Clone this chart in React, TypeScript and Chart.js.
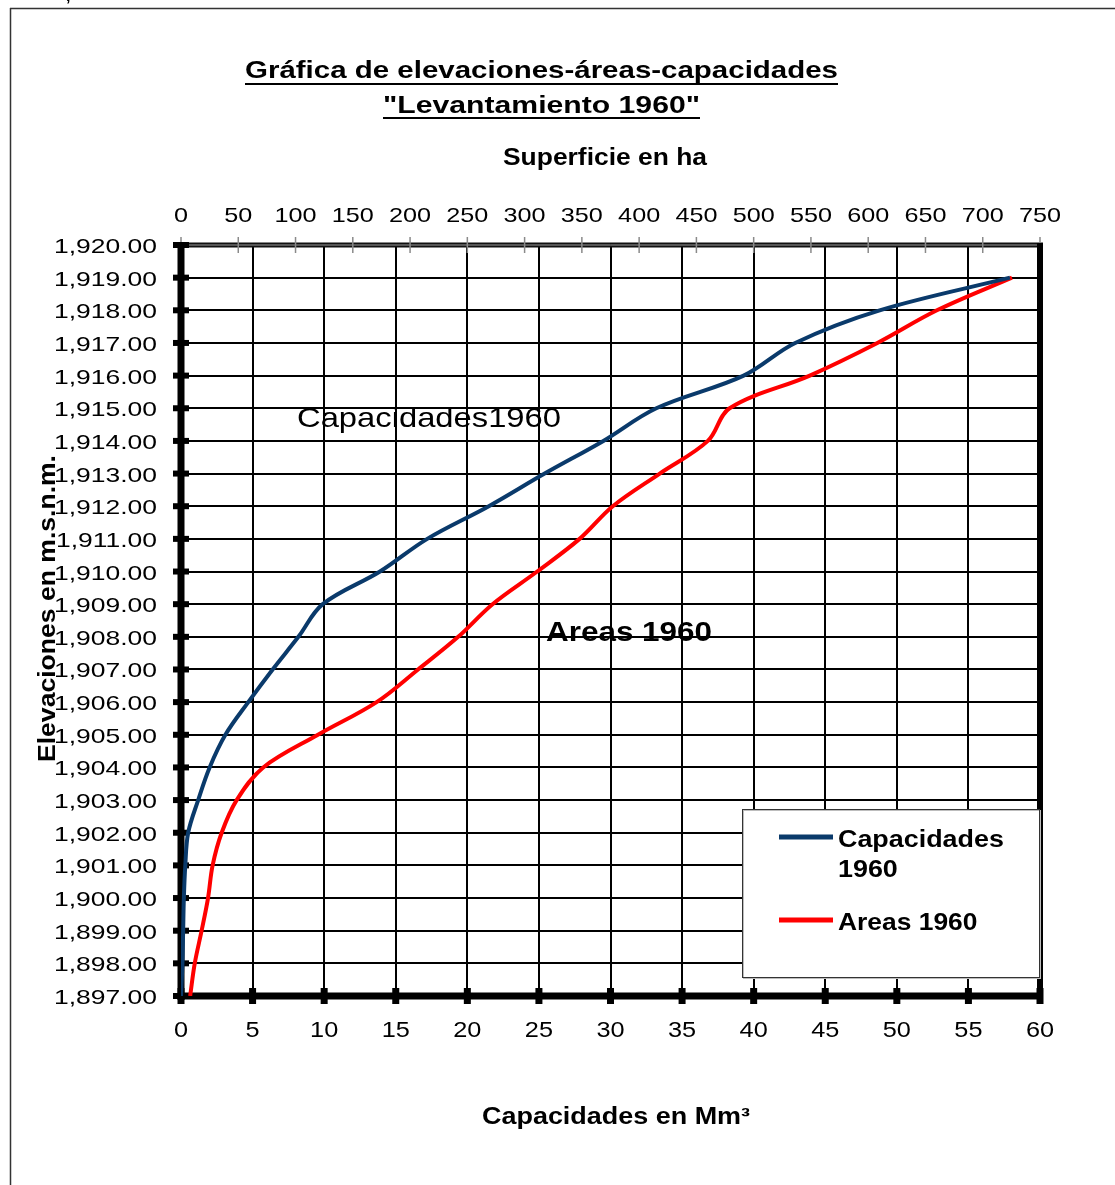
import React, { useEffect, useRef } from "react";
import { Chart, registerables } from "chart.js";

Chart.register(...registerables);

// ---- data ----
const elevaciones = [
  1897, 1898, 1899, 1900, 1901, 1902, 1903, 1904, 1905, 1906, 1907, 1908,
  1909, 1910, 1911, 1912, 1913, 1914, 1915, 1916, 1917, 1918, 1919,
];
// Capacidades en Mm³ (bottom axis)
const capacidades = [
  0, 0.1, 0.15, 0.2, 0.3, 0.5, 1.2, 2.0, 3.1, 4.7, 6.4, 8.2, 9.9, 13.9, 17.2,
  21.5, 25.4, 29.5, 33.2, 39.3, 42.9, 48.8, 57.9,
];
// Superficie en ha (top axis)
const areas = [
  8, 12, 18, 23.6, 27.6, 35.5, 48.6, 71.8, 119.6, 170.8, 207, 242, 272, 311,
  348, 377, 418, 460, 479, 549, 608, 660, 725.5,
];

const tituloLineas = ["Gráfica de elevaciones-áreas-capacidades", '"Levantamiento 1960"'];
const tituloSuperior = "Superficie en ha";
const tituloInferior = "Capacidades en Mm³";
const tituloY = "Elevaciones en m.s.n.m.";
const serieCapacidades = "Capacidades 1960";
const serieAreas = "Areas 1960";
const etiquetaCap = "Capacidades1960";
const etiquetaAreas = "Areas 1960";

const capRange = { min: 0, max: 60, step: 5 };
const areaRange = { min: 0, max: 750, step: 50 };
const elevRange = { min: 1897, max: 1920, step: 1 };

const FONT = "'Liberation Sans', Arial, sans-serif";
const BLUE = "#0a3a6b";
const RED = "#ff0000";

function drawStretched(
  ctx: CanvasRenderingContext2D,
  text: string,
  x: number,
  y: number,
  font: string,
  scaleX: number,
  align: "left" | "center" | "right"
) {
  ctx.save();
  ctx.font = font;
  ctx.textBaseline = "alphabetic";
  ctx.textAlign = "left";
  const w = ctx.measureText(text).width * scaleX;
  const left = align === "center" ? x - w / 2 : align === "right" ? x - w : x;
  ctx.translate(left, y);
  ctx.scale(scaleX, 1);
  ctx.fillStyle = "#000";
  ctx.fillText(text, 0, 0);
  ctx.restore();
  return w;
}

function drawFitted(
  ctx: CanvasRenderingContext2D,
  text: string,
  left: number,
  right: number,
  y: number,
  font: string
) {
  ctx.save();
  ctx.font = font;
  const m = ctx.measureText(text).width;
  ctx.restore();
  drawStretched(ctx, text, left, y, font, (right - left) / m, "left");
}

function line(
  ctx: CanvasRenderingContext2D,
  x1: number,
  y1: number,
  x2: number,
  y2: number,
  color: string,
  width: number
) {
  ctx.save();
  ctx.strokeStyle = color;
  ctx.lineWidth = width;
  ctx.lineCap = "butt";
  ctx.beginPath();
  ctx.moveTo(x1, y1);
  ctx.lineTo(x2, y2);
  ctx.stroke();
  ctx.restore();
}

const decorPlugin = {
  id: "decor",
  beforeDatasetsDraw(chart: any) {
    const ctx: CanvasRenderingContext2D = chart.ctx;
    const { left, right, top, bottom } = chart.chartArea;
    const xs = chart.scales.x;
    const x2s = chart.scales.x2;
    const ys = chart.scales.y;

    // top border (double line look)
    line(ctx, left - 3, top, right + 3, top, "#111", 5);
    line(ctx, left + 3, top, right - 3, top, "#9a9a9a", 1);
    // top axis small gray ticks
    x2s.ticks.forEach((t: any) => {
      const px = x2s.getPixelForValue(t.value);
      line(ctx, px, top - 8, px, top + 8, "#8a8a8a", 1.5);
    });
    // right border
    line(ctx, right, top - 2, right, bottom + 4, "#000", 6);
    // left axis
    line(ctx, left, top - 2, left, bottom + 4, "#000", 7);
    // bottom axis
    line(ctx, left - 3, bottom, right + 3, bottom, "#000", 7);
    // left tick marks
    ys.ticks.forEach((t: any) => {
      const py = ys.getPixelForValue(t.value);
      line(ctx, left - 8, py, left + 8, py, "#000", 6);
    });
    // bottom tick marks
    xs.ticks.forEach((t: any) => {
      const px = xs.getPixelForValue(t.value);
      line(ctx, px, bottom - 8, px, bottom + 8, "#000", 7);
    });
  },
  afterDatasetsDraw(chart: any) {
    const ctx: CanvasRenderingContext2D = chart.ctx;
    const { left, right, top, bottom } = chart.chartArea;
    const xs = chart.scales.x;
    const x2s = chart.scales.x2;
    const ys = chart.scales.y;

    // outer frame
    line(ctx, 10, 8.5, chart.width, 8.5, "#333", 1.5);
    line(ctx, 10.5, 8, 10.5, chart.height, "#333", 1.5);
    drawStretched(ctx, ",", 66, 1, `bold 16px ${FONT}`, 1, "left");

    // title
    drawFitted(ctx, tituloLineas[0], 245, 838, 78, `bold 24px ${FONT}`);
    line(ctx, 245, 84, 838, 84, "#000", 2);
    drawFitted(ctx, tituloLineas[1], 383, 700, 113, `bold 24px ${FONT}`);
    line(ctx, 383, 118, 700, 118, "#000", 2);

    // axis titles
    drawFitted(ctx, tituloSuperior, 503, 707, 165, `bold 23px ${FONT}`);
    drawFitted(ctx, tituloInferior, 482, 750, 1124, `bold 23px ${FONT}`);
    ctx.save();
    ctx.translate(55, 0);
    ctx.rotate(-Math.PI / 2);
    // in rotated frame x = -y
    drawFitted(ctx, tituloY, -762, -455, 0, `bold 23px ${FONT}`);
    ctx.restore();

    // tick labels
    ys.ticks.forEach((t: any) => {
      const py = ys.getPixelForValue(t.value);
      const txt = Number(t.value).toLocaleString("en-US", {
        minimumFractionDigits: 2,
        maximumFractionDigits: 2,
      });
      drawStretched(ctx, txt, left - 24, py + 8, `21px ${FONT}`, 1.26, "right");
    });
    x2s.ticks.forEach((t: any) => {
      const px = x2s.getPixelForValue(t.value);
      drawStretched(ctx, String(t.value), px, top - 23, `21px ${FONT}`, 1.2, "center");
    });
    xs.ticks.forEach((t: any) => {
      const px = xs.getPixelForValue(t.value);
      drawStretched(ctx, String(t.value), px, bottom + 41, `22px ${FONT}`, 1.15, "center");
    });

    // in-plot labels
    drawFitted(ctx, etiquetaCap, 297, 561, 427, `28px ${FONT}`);
    drawFitted(ctx, etiquetaAreas, 546, 712, 641, `bold 27px ${FONT}`);

    // legend
    const lx1 = 742, ly1 = 809, lx2 = 1039, ly2 = 977;
    ctx.save();
    ctx.fillStyle = "#fff";
    ctx.fillRect(lx1, ly1, lx2 - lx1, ly2 - ly1);
    ctx.strokeStyle = "#bdbdbd";
    ctx.lineWidth = 1;
    ctx.strokeRect(lx1 + 1.5, ly1 + 1.5, lx2 - lx1, ly2 - ly1);
    ctx.strokeStyle = "#333";
    ctx.strokeRect(lx1 + 0.5, ly1 + 0.5, lx2 - lx1, ly2 - ly1);
    ctx.restore();
    const ds = chart.data.datasets;
    const capWords = String(ds[0].label).split(" ");
    line(ctx, 779, 837, 833, 837, ds[0].borderColor, 5);
    drawStretched(ctx, capWords[0], 838, 847, `bold 24px ${FONT}`, 1.12, "left");
    drawStretched(ctx, capWords[1], 838, 877, `bold 24px ${FONT}`, 1.12, "left");
    line(ctx, 779, 920, 833, 920, ds[1].borderColor, 5);
    drawStretched(ctx, String(ds[1].label), 838, 930, `bold 24px ${FONT}`, 1.1, "left");
  },
};

export default function App() {
  const ref = useRef<HTMLCanvasElement | null>(null);

  useEffect(() => {
    if (!ref.current) return;
    const chart = new Chart(ref.current, {
      type: "scatter",
      data: {
        datasets: [
          {
            label: serieCapacidades,
            data: elevaciones.map((e, i) => ({ x: capacidades[i], y: e })),
            xAxisID: "x",
            yAxisID: "y",
            showLine: true,
            borderColor: BLUE,
            borderWidth: 4,
            pointRadius: 0,
            tension: 0.35,
            fill: false,
          },
          {
            label: serieAreas,
            data: elevaciones.map((e, i) => ({ x: areas[i], y: e })),
            xAxisID: "x2",
            yAxisID: "y",
            showLine: true,
            borderColor: RED,
            borderWidth: 4,
            pointRadius: 0,
            tension: 0.35,
            fill: false,
          },
        ],
      },
      options: {
        animation: false,
        responsive: false,
        maintainAspectRatio: false,
        layout: { padding: { left: 0, right: 75, top: 0, bottom: 0 } },
        plugins: {
          legend: { display: false },
          title: { display: false },
          tooltip: { enabled: false },
        },
        scales: {
          x: {
            type: "linear",
            position: "bottom",
            min: capRange.min,
            max: capRange.max,
            ticks: { stepSize: capRange.step, display: false },
            grid: { color: "#000", lineWidth: 2, drawTicks: false },
            border: { display: false },
            afterFit: (s: any) => {
              s.height = 189;
            },
          },
          x2: {
            type: "linear",
            position: "top",
            min: areaRange.min,
            max: areaRange.max,
            ticks: { stepSize: areaRange.step, display: false },
            grid: { display: false, drawTicks: false },
            border: { display: false },
            afterFit: (s: any) => {
              s.height = 245;
            },
          },
          y: {
            type: "linear",
            position: "left",
            min: elevRange.min,
            max: elevRange.max,
            ticks: { stepSize: elevRange.step, display: false },
            grid: { color: "#000", lineWidth: 2, drawTicks: false },
            border: { display: false },
            afterFit: (s: any) => {
              s.width = 181;
            },
          },
        },
      } as any,
      plugins: [decorPlugin],
    });
    return () => chart.destroy();
  }, []);

  return (
    <div style={{ position: "absolute", left: 0, top: 0, width: 1115, height: 1185, background: "#fff" }}>
      <canvas ref={ref} width={1115} height={1185} style={{ width: 1115, height: 1185, display: "block" }} />
    </div>
  );
}
